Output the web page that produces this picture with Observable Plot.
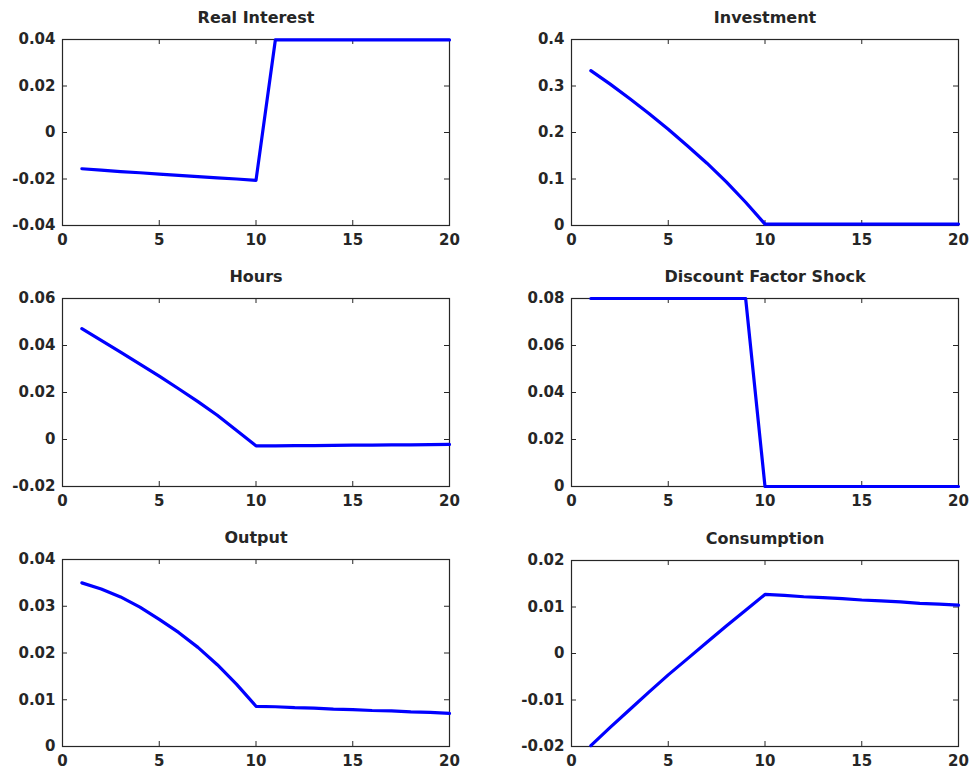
<!DOCTYPE html>
<html>
<head>
<meta charset="utf-8">
<script src="https://cdn.jsdelivr.net/npm/d3@7"></script>
<script src="https://cdn.jsdelivr.net/npm/@observablehq/plot@0.6"></script>
<style>
  html, body { margin: 0; padding: 0; background: #fff; }
  #wrap { position: relative; width: 974px; height: 777px; overflow: hidden; }
  #wrap svg { position: absolute; }
</style>
</head>
<body>
<div id="wrap"></div>
<script>
const periods = d3.range(1, 21);
const xTicks = [0, 5, 10, 15, 20];

const realInterest = [-0.0156, -0.0162, -0.0168, -0.0173, -0.0179, -0.0184, -0.0190, -0.0195, -0.0200, -0.0206,
  0.0398, 0.0398, 0.0398, 0.0398, 0.0398, 0.0398, 0.0398, 0.0398, 0.0398, 0.0398];
const investment = [0.333, 0.304, 0.273, 0.241, 0.207, 0.171, 0.134, 0.094, 0.050, 0.003,
  0.003, 0.003, 0.003, 0.003, 0.003, 0.003, 0.003, 0.003, 0.003, 0.003];
const hours = [0.0472, 0.0422, 0.0372, 0.0321, 0.0270, 0.0216, 0.0161, 0.0103, 0.0038, -0.0027,
  -0.0027, -0.0026, -0.0026, -0.0025, -0.0024, -0.0024, -0.0023, -0.0023, -0.0022, -0.0021];
const discountShock = [0.08, 0.08, 0.08, 0.08, 0.08, 0.08, 0.08, 0.08, 0.08, 0,
  0, 0, 0, 0, 0, 0, 0, 0, 0, 0];
const output = [0.0350, 0.0337, 0.0320, 0.0298, 0.0272, 0.0244, 0.0212, 0.0175, 0.0133, 0.0086,
  0.0085, 0.0083, 0.0082, 0.0080, 0.0079, 0.0077, 0.0076, 0.0074, 0.0073, 0.0071];
const consumption = [-0.0198, -0.0159, -0.0121, -0.0083, -0.0046, -0.0011, 0.0024, 0.0059, 0.0093, 0.0127,
  0.0125, 0.0122, 0.0120, 0.0118, 0.0115, 0.0113, 0.0111, 0.0108, 0.0106, 0.0104];

const titles = ["Real Interest", "Investment", "Hours", "Discount Factor Shock", "Output", "Consumption"];
const series = [realInterest, investment, hours, discountShock, output, consumption];
const yDomains = [[-0.04, 0.04], [0, 0.4], [-0.02, 0.06], [0, 0.08], [0, 0.04], [-0.02, 0.02]];
const yTickLists = [
  [-0.04, -0.02, 0, 0.02, 0.04],
  [0, 0.1, 0.2, 0.3, 0.4],
  [-0.02, 0, 0.02, 0.04, 0.06],
  [0, 0.02, 0.04, 0.06, 0.08],
  [0, 0.01, 0.02, 0.03, 0.04],
  [-0.02, -0.01, 0, 0.01, 0.02]
];

// layout: [left, top, marginLeft, marginRight, marginTop, marginBottom]
const layout = [
  [0, 0, 62, 38, 39, 35],
  [487, 0, 84, 16, 39, 35],
  [0, 260, 62, 38, 38, 34],
  [487, 260, 84, 16, 38, 34],
  [0, 517, 62, 38, 42, 31],
  [487, 517, 84, 16, 43, 31]
];

const fmt = d => { const v = +d.toFixed(4); return v === 0 ? "0" : String(v); };
const ink = "#262626";
const wrap = document.getElementById("wrap");

series.forEach((vals, i) => {
  const [left, top, ml, mr, mt, mb] = layout[i];
  const W = 487, H = 260;
  const fw = W - ml - mr, fh = H - mt - mb;
  const data = periods.map((p, j) => ({period: p, value: vals[j]}));
  const chart = Plot.plot({
    width: W,
    height: H,
    marginLeft: ml,
    marginRight: mr,
    marginTop: mt,
    marginBottom: mb,
    style: {fontFamily: "'DejaVu Sans', sans-serif", fontWeight: "bold", fontSize: "15px", color: ink, background: "transparent", overflow: "visible"},
    x: {domain: [0, 20], ticks: xTicks, label: null},
    y: {domain: yDomains[i], ticks: yTickLists[i], label: null},
    marks: [
      Plot.frame({stroke: ink, strokeWidth: 1.2}),
      Plot.tickY(yTickLists[i], {y: d => d, insetRight: fw - 5, stroke: ink}),
      Plot.tickY(yTickLists[i], {y: d => d, insetLeft: fw - 5, stroke: ink}),
      Plot.tickX(xTicks, {x: d => d, insetTop: fh - 5, stroke: ink}),
      Plot.tickX(xTicks, {x: d => d, insetBottom: fh - 5, stroke: ink}),
      Plot.line(data, {x: "period", y: "value", stroke: "#0000ff", strokeWidth: 3.2, strokeLinejoin: "round"}),
      Plot.axisX(xTicks, {tickSize: 0, tickPadding: 9, tickFormat: fmt, label: null, fontSize: 15, fontWeight: "bold", fill: ink}),
      Plot.axisY(yTickLists[i], {tickSize: 0, tickPadding: 7, tickFormat: fmt, label: null, fontSize: 15, fontWeight: "bold", fill: ink}),
      Plot.text([titles[i]], {frameAnchor: "top", dy: -17, lineAnchor: "bottom", text: d => d, fontSize: 16, fontWeight: "bold", fill: ink})
    ]
  });
  chart.style.left = left + "px";
  chart.style.top = top + "px";
  wrap.appendChild(chart);
});
</script>
</body>
</html>
